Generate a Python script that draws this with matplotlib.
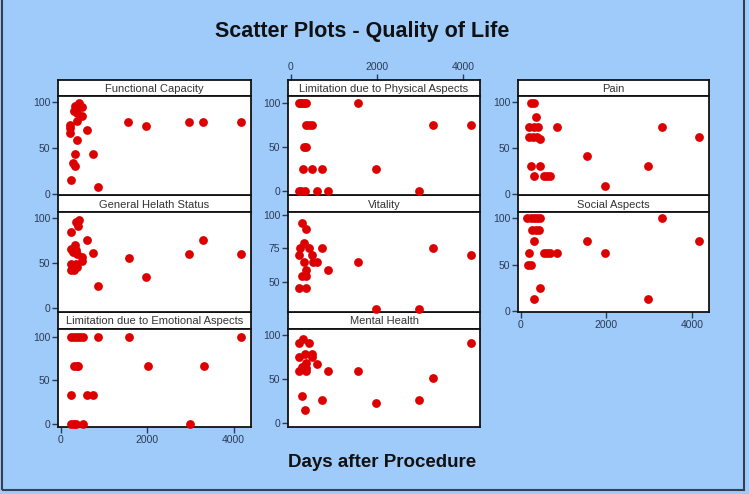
import matplotlib.pyplot as plt
import matplotlib.patches as patches

plt.rcParams['font.family'] = ['Liberation Sans', 'DejaVu Sans']

BG = '#9fcbfb'
TICK_C = '#2b3a55'
DOT_C = '#dd0000'

# data (days after procedure, score)
fc_days = [433, 330, 489, 310, 372, 489, 380, 225, 225, 225, 380, 326, 290, 340,
           233, 620, 752, 870, 1560, 1980, 2970, 3300, 4170]
fc_score = [99, 95, 94, 90, 88, 84, 79, 75, 71, 66, 59, 43, 34, 30,
            15, 69, 43, 8, 78, 74, 78, 78, 78]

lpa_days = [194, 230, 270, 310, 350, 1574, 349, 426, 504, 3318, 4186, 310, 365,
            295, 488, 737, 1992, 194, 250, 333, 605, 876, 2985]
lpa_score = [100, 100, 100, 100, 100, 100, 75, 75, 75, 75, 75, 50, 50,
             25, 25, 25, 25, 0, 0, 0, 0, 0, 0]

pain_days = [233, 310, 350, 194, 310, 403, 853, 194, 287, 373, 465, 233, 465,
             310, 543, 620, 682, 1560, 1980, 2970, 3300, 4170]
pain_score = [99, 99, 83, 72, 72, 72, 72, 62, 62, 62, 60, 30, 30,
              20, 20, 20, 20, 41, 9, 30, 73, 62]

ghs_days = [433, 355, 403, 233, 620, 233, 326, 287, 350, 388, 489, 489, 233, 350,
            388, 233, 310, 752, 870, 1570, 1980, 2970, 3300, 4170]
ghs_score = [98, 95.5, 91, 85, 76, 66, 70, 62.5, 64, 60, 57, 52, 49, 49,
             45, 42, 42, 61, 24, 56, 34, 60, 76, 60]

vit_days = [271, 365, 310, 217, 418, 194, 496, 310, 527, 605, 349, 255, 365,
            194, 349, 737, 876, 1570, 1990, 2980, 3310, 4180]
vit_score = [94, 89, 79, 75, 75, 70, 70, 65, 65, 65, 59, 54, 54,
             45, 45, 75, 59, 65, 30, 30, 75, 70]

soc_days = [155, 233, 310, 388, 465, 272, 350, 427, 310, 1560, 4170, 194, 543,
            620, 682, 853, 1980, 178, 233, 465, 310, 2970, 3300]
soc_score = [100, 100, 100, 100, 100, 87.5, 87.5, 87.5, 75, 75, 75, 62.5, 62.5,
             62.5, 62.5, 62.5, 62.5, 50, 50, 25, 12.5, 12.5, 100]

lea_days = [233, 310, 388, 450, 520, 870, 1590, 4170, 310, 372, 411, 2010, 3310,
            233, 620, 752, 233, 310, 350, 520, 2980]
lea_score = [100, 100, 100, 100, 100, 100, 100, 100, 66.7, 66.7, 66.7, 66.7, 66.7,
             33.3, 33.3, 33.3, 0, 0, 0, 0, 0]

mh_days = [295, 194, 418, 333, 488, 194, 488, 605, 365, 271, 349, 255, 194, 365,
           263, 333, 737, 876, 1574, 1992, 2985, 3318, 4186]
mh_score = [95.5, 91, 91, 78, 78, 75, 75, 67, 68, 64, 62, 61.5, 58.5, 58.5,
            31, 14, 26, 58.5, 58.5, 22, 26, 51, 91]

# panel layout in pixels: (left, right) per column, (strip top, plot top, plot bottom) per row
col_x = [(58, 251), (288, 480), (518, 709)]
row_y = [(80, 96.5, 195), (195, 212.5, 312), (312, 329, 427)]
W, H = 749, 494

panels = [
    ('Functional Capacity', fc_days, fc_score, 0, 0, (-1, 105.5), [0, 50, 100], None),
    ('General Helath Status', ghs_days, ghs_score, 0, 1, (-5, 106.5), [0, 50, 100], None),
    ('Limitation due to Emotional Aspects', lea_days, lea_score, 0, 2, (-3.5, 109), [0, 50, 100], 'bottom'),
    ('Limitation due to Physical Aspects', lpa_days, lpa_score, 1, 0, (-4, 107.5), [0, 50, 100], 'top'),
    ('Vitality', vit_days, vit_score, 1, 1, (27.5, 101.5), [50, 75, 100], None),
    ('Mental Health', mh_days, mh_score, 1, 2, (-5, 107), [0, 50, 100], None),
    ('Pain', pain_days, pain_score, 2, 0, (-1, 105.5), [0, 50, 100], None),
    ('Social Aspects', soc_days, soc_score, 2, 1, (-1, 106), [0, 50, 100], 'bottom'),
]

fig = plt.figure(figsize=(W / 100, H / 100), dpi=100)
fig.patch.set_facecolor(BG)
fig.patches.append(patches.Rectangle((1.5 / W, 4 / H), 742.5 / W, 1.2, transform=fig.transFigure,
                                     fill=False, edgecolor='#3a3f4f', lw=1.5))


def fx(px):
    return px / W


def fy(py):
    return 1 - py / H


for title, x, y, c, r, ylim, yticks, xpos in panels:
    x0, x1 = col_x[c]
    st, pt, pb = row_y[r]

    strip = fig.add_axes([fx(x0), fy(pt), fx(x1) - fx(x0), fy(st) - fy(pt)])
    strip.set_xticks([])
    strip.set_yticks([])
    for sp in strip.spines.values():
        sp.set_linewidth(1.3)
        sp.set_color('#111111')
    strip.text(0.5, 0.45, title, ha='center', va='center', fontsize=8, color='#333333',
               transform=strip.transAxes)

    ax = fig.add_axes([fx(x0), fy(pb), fx(x1) - fx(x0), fy(pt) - fy(pb)])
    ax.set_zorder(3)
    ax.scatter(x, y, s=40, color=DOT_C, zorder=3, clip_on=False, linewidths=0)
    ax.set_xlim(-60, 4400)
    ax.set_ylim(*ylim)
    ax.set_yticks(yticks)
    ax.set_xticks([0, 2000, 4000])
    ax.tick_params(colors=TICK_C, labelsize=7.5, length=4, width=1, pad=1.5)
    for sp in ax.spines.values():
        sp.set_linewidth(1.3)
        sp.set_color('#111111')
    if xpos == 'bottom':
        ax.xaxis.set_ticks_position('bottom')
    else:
        ax.tick_params(axis='x', bottom=False, top=False, labelbottom=False, labeltop=False)
    if xpos == 'top':
        # the shared top axis sits above the strip
        strip.set_xlim(ax.get_xlim())
        strip.set_xticks([0, 2000, 4000])
        strip.xaxis.set_ticks_position('top')
        strip.tick_params(colors=TICK_C, labelsize=7.5, length=4, width=1, pad=1.5)

fig.text(fx(362), fy(31), 'Scatter Plots - Quality of Life', ha='center', va='center',
         fontsize=15.5, fontweight='bold', color='#111111')
fig.text(fx(382), fy(462), 'Days after Procedure', ha='center', va='center',
         fontsize=13.5, fontweight='bold', color='#111111')

fig.savefig('out.png', dpi=100, facecolor=BG)
